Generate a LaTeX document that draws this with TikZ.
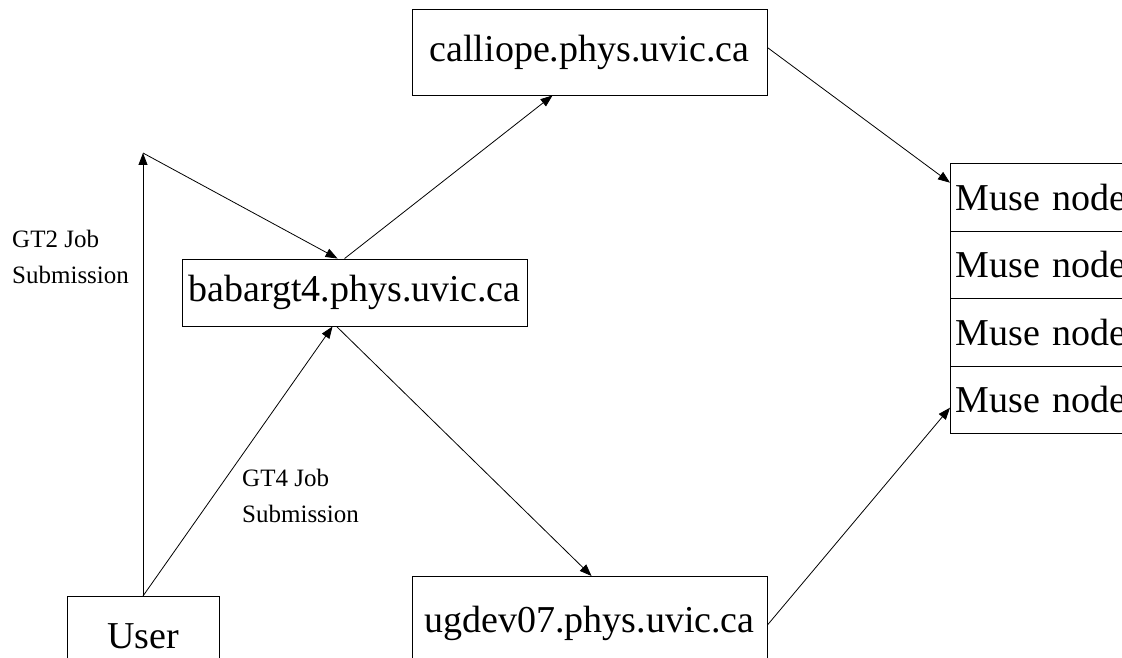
\documentclass[tikz,border=0pt]{standalone}
\usepackage{fontspec}
\setmainfont{Liberation Serif}
\usetikzlibrary{arrows.meta}
\tikzset{
  host/.style={draw, line width=0.9pt, inner sep=0pt, font=\fontsize{38}{40}\selectfont},
  musebox/.style={draw, line width=0.9pt, anchor=north west, minimum height=67.5pt, text width=180pt, inner xsep=5pt, inner ysep=0pt, align=left, font=\fontsize{38}{40}\selectfont},
  lbl/.style={anchor=north west, inner sep=0pt, align=left, font=\fontsize{25}{36}\selectfont},
  conn/.style={line width=0.8pt, -{Triangle[length=12pt,width=9pt]}},
}
\begin{document}
\begin{tikzpicture}[x=1pt,y=-1pt]
\useasboundingbox (0,0) rectangle (1122,658);
\clip (0,0) rectangle (1122,658);
\fill[white] (0,0) rectangle (1122,658);

\node[host, minimum width=355pt, minimum height=86pt] (cal) at (589.5,52) {calliope.phys.uvic.ca};
\node[host, minimum width=345pt, minimum height=67pt] (bab) at (354.5,292.5) {babargt4.phys.uvic.ca};
\node[host, anchor=north, minimum width=152pt, minimum height=80pt] (user) at (143,596) {User};
\node[host, anchor=north, minimum width=355pt, minimum height=94pt] (ug) at (589.5,576) {ugdev07.phys.uvic.ca};

\node[musebox] (m1) at (950,163) {Muse node};
\node[musebox] (m2) at (950,230.5) {Muse node};
\node[musebox] (m3) at (950,298) {Muse node};
\node[musebox] (m4) at (950,365.5) {Muse node};

\node[lbl] (gt2) at (12,230) {GT2 Job\\Submission};
\node[lbl] (gt4) at (242,469) {GT4 Job\\Submission};

\coordinate (corner) at (143,153);

\draw[conn] (user.north) -- (corner);
\draw[conn] (corner) -- ([xshift=156pt]bab.north west);
\draw[conn] (user.north) -- ([xshift=151pt]bab.south west);
\draw[conn] ([xshift=163pt]bab.north west) -- ([xshift=141pt]cal.south west);
\draw[conn] ([xshift=155pt]bab.south west) -- ([xshift=180pt]ug.north west);
\draw[conn] ([yshift=-39pt]cal.north east) -- ([yshift=14.5pt]m1.west);
\draw[conn] ([yshift=-49pt]ug.north east) -- ([yshift=-8pt]m4.west);
\end{tikzpicture}
\end{document}
